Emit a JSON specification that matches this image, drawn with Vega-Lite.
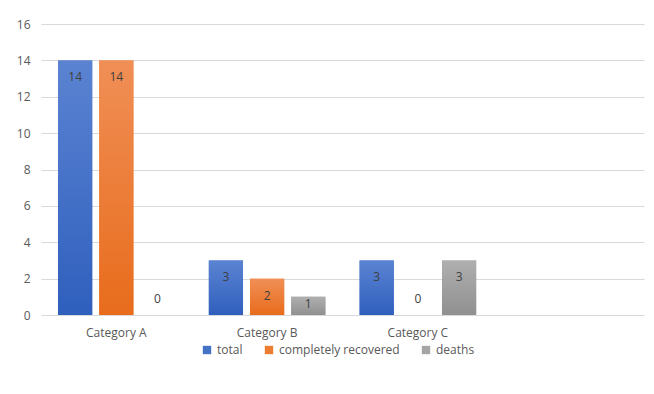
{
  "$schema": "https://vega.github.io/schema/vega-lite/v6.json",
  "width": 603,
  "height": 291,
  "autosize": {"type": "none"},
  "padding": {"left": 41, "top": 24, "right": 10, "bottom": 79},
  "background": "white",
  "config": {
    "view": {"stroke": null},
    "font": "Open Sans",
    "axis": {"labelColor": "#595959", "labelFontSize": 12, "titleColor": "#595959"}
  },
  "data": {
    "values": [
      {"category": "Category A", "series": "total", "value": 14},
      {"category": "Category A", "series": "completely recovered", "value": 14},
      {"category": "Category A", "series": "deaths", "value": 0},
      {"category": "Category B", "series": "total", "value": 3},
      {"category": "Category B", "series": "completely recovered", "value": 2},
      {"category": "Category B", "series": "deaths", "value": 1},
      {"category": "Category C", "series": "total", "value": 3},
      {"category": "Category C", "series": "completely recovered", "value": 0},
      {"category": "Category C", "series": "deaths", "value": 3}
    ]
  },
  "encoding": {
    "x": {
      "field": "category",
      "type": "nominal",
      "scale": {"domain": ["Category A", "Category B", "Category C", " "], "paddingInner": 0.227, "paddingOuter": 0.113},
      "axis": {"title": null, "labelAngle": 0, "ticks": false, "domain": false, "labelPadding": 12, "labelFontSize": 12}
    },
    "xOffset": {
      "field": "series",
      "type": "nominal",
      "scale": {"domain": ["total", "completely recovered", "deaths"], "paddingInner": 0.17, "paddingOuter": 0}
    },
    "y": {
      "field": "value",
      "type": "quantitative",
      "scale": {"domain": [0, 16], "nice": false},
      "axis": {"title": null, "values": [0, 2, 4, 6, 8, 10, 12, 14, 16], "domain": false, "ticks": false, "labelPadding": 11, "gridColor": "#d9d9d9", "gridWidth": 1}
    }
  },
  "layer": [
    {
      "mark": {"type": "bar"},
      "encoding": {
        "color": {
          "field": "series",
          "type": "nominal",
          "scale": {"domain": ["total", "completely recovered", "deaths"], "range": ["#4472C4", "#ED7D31", "#A5A5A5"]},
          "legend": {
            "title": null,
            "orient": "none",
            "direction": "horizontal",
            "legendX": 160,
            "legendY": 320,
            "symbolType": "square",
            "symbolSize": 70,
            "symbolStrokeWidth": 0,
            "labelFontSize": 12,
            "labelColor": "#595959",
            "labelOffset": 4,
            "columnPadding": 20
          }
        }
      }
    },
    {
      "transform": [{"filter": "datum.series == 'total'"}],
      "mark": {"type": "bar", "color": {"gradient": "linear", "x1": 0, "y1": 0, "x2": 0, "y2": 1, "stops": [{"offset": 0, "color": "#5b83d2"}, {"offset": 1, "color": "#2f5fbd"}]}}
    },
    {
      "transform": [{"filter": "datum.series == 'completely recovered'"}],
      "mark": {"type": "bar", "color": {"gradient": "linear", "x1": 0, "y1": 0, "x2": 0, "y2": 1, "stops": [{"offset": 0, "color": "#f08f56"}, {"offset": 1, "color": "#e86c1c"}]}}
    },
    {
      "transform": [{"filter": "datum.series == 'deaths'"}],
      "mark": {"type": "bar", "color": {"gradient": "linear", "x1": 0, "y1": 0, "x2": 0, "y2": 1, "stops": [{"offset": 0, "color": "#afafaf"}, {"offset": 1, "color": "#909090"}]}}
    },
    {
      "transform": [{"filter": "datum.value > 1"}],
      "mark": {"type": "text", "baseline": "middle", "dy": 17, "fontSize": 12, "color": "#404040"},
      "encoding": {"text": {"field": "value", "type": "quantitative"}}
    },
    {
      "transform": [{"filter": "datum.value == 1"}],
      "mark": {"type": "text", "baseline": "middle", "dy": 7, "fontSize": 12, "color": "#404040"},
      "encoding": {"text": {"field": "value", "type": "quantitative"}}
    },
    {
      "transform": [{"filter": "datum.value == 0"}],
      "mark": {"type": "text", "baseline": "middle", "dy": -16, "fontSize": 12, "color": "#404040"},
      "encoding": {"text": {"field": "value", "type": "quantitative"}}
    }
  ]
}
